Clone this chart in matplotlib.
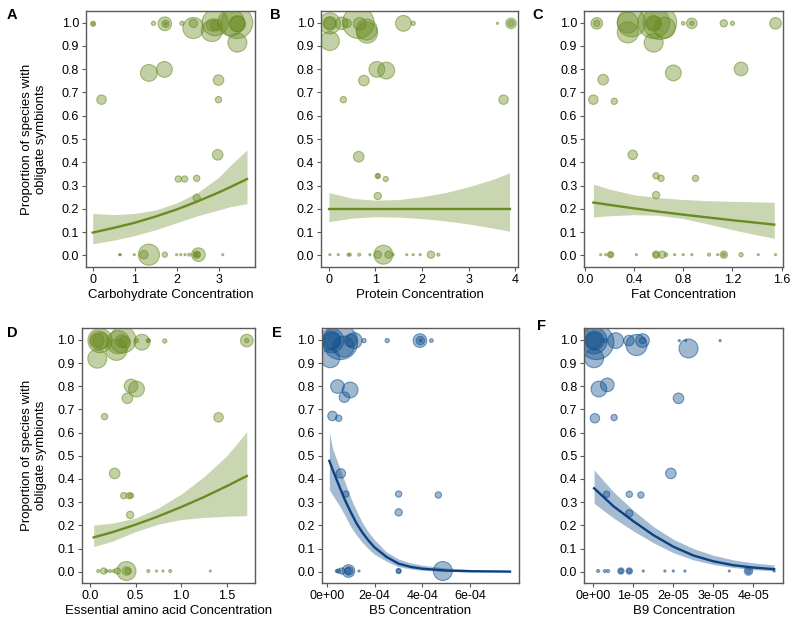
import matplotlib.pyplot as plt
from matplotlib.colors import to_rgba

plt.rcParams['font.family'] = ['Liberation Sans', 'DejaVu Sans']

GREEN = "#698B22"
BLUE = "#104E8B"
BLUE_LINE = "#0c4283"

YLABEL = "Proportion of species with\nobligate symbionts"

# ---- panel A: carbohydrate ----
a_x = [0.01, 0.01, 1.45, 1.72, 1.74, 1.74, 2.13, 2.40, 2.40, 2.84, 2.92, 2.86, 2.95,
       3.44, 3.45, 3.45, 3.30, 3.45,
       1.34, 1.71, 3.00, 3.00, 0.21, 2.98, 2.04, 2.19, 2.48, 2.48,
       0.64, 0.66, 0.99, 1.34, 1.22, 1.72, 2.00, 2.10, 2.20, 2.30, 2.52, 2.48, 2.45, 3.10, 2.50]
a_y = [0.995, 0.995, 0.997, 0.995, 0.995, 0.995, 0.997, 0.997, 0.977, 0.964, 1.0, 0.99, 0.99,
       1.0, 0.995, 0.995, 1.0, 0.914,
       0.784, 0.799, 0.753, 0.669, 0.669, 0.432, 0.328, 0.328, 0.331, 0.247,
       0.003, 0.003, 0.003, 0.003, 0.003, 0.003, 0.003, 0.003, 0.003, 0.003, 0.003, 0.003, 0.003, 0.003, 0.003]
a_n = [6, 2, 4, 42, 12, 2, 4, 16, 100, 100, 156, 36, 30,
       225, 56, 56, 160, 81,
       64, 56, 25, 9, 20, 25, 9, 9, 9, 12,
       1, 1, 1, 100, 16, 6, 1, 1, 1, 2, 42, 12, 4, 1, 6]
a_fit_x = [0.0, 0.5, 1.0, 1.5, 2.0, 2.5, 3.0, 3.3, 3.68]
a_fit = [0.098, 0.118, 0.140, 0.167, 0.197, 0.232, 0.270, 0.295, 0.328]
a_lo = [0.050, 0.065, 0.085, 0.110, 0.140, 0.170, 0.195, 0.210, 0.222]
a_hi = [0.180, 0.175, 0.180, 0.195, 0.225, 0.270, 0.335, 0.390, 0.453]

# ---- panel B: protein ----
b_x = [0.02, 0.02, 0.02, 0.02, 0.27, 0.39, 0.63, 0.66, 0.81, 0.82, 1.60, 1.81, 3.62, 3.91, 3.91,
       1.03, 1.23, 0.75, 0.31, 3.75, 0.64, 1.05, 1.05, 1.22, 1.05,
       1.17, 1.05, 1.28, 2.19, 2.35, 0.02, 0.20, 0.42, 0.45, 0.65, 0.88, 1.38, 1.67, 1.81, 1.96]
b_y = [0.997, 0.997, 0.997, 0.921, 0.997, 0.997, 1.0, 0.995, 0.970, 0.957, 0.997, 0.997, 0.997, 0.997, 0.997,
       0.799, 0.794, 0.751, 0.669, 0.669, 0.424, 0.341, 0.341, 0.328, 0.255,
       0.003, 0.003, 0.003, 0.003, 0.003, 0.003, 0.003, 0.003, 0.003, 0.003, 0.003, 0.003, 0.003, 0.003, 0.003]
b_n = [100, 42, 30, 81, 36, 16, 225, 36, 100, 100, 56, 4, 1, 25, 9,
       56, 64, 25, 9, 20, 25, 6, 4, 6, 12,
       81, 12, 12, 12, 2, 1, 1, 2, 2, 2, 1, 1, 1, 1, 1]
b_fit_x = [0.0, 0.5, 1.0, 1.5, 2.0, 2.5, 3.0, 3.5, 3.88]
b_fit = [0.200, 0.200, 0.200, 0.200, 0.200, 0.200, 0.200, 0.200, 0.200]
b_lo = [0.145, 0.160, 0.166, 0.164, 0.158, 0.148, 0.135, 0.118, 0.104]
b_hi = [0.270, 0.245, 0.237, 0.240, 0.252, 0.270, 0.295, 0.325, 0.355]

# ---- panel C: fat ----
c_x = [0.098, 0.098, 0.35, 0.35, 0.38, 0.56, 0.56, 0.56, 0.56, 0.65, 0.61, 0.80, 0.87, 0.87, 1.13, 1.20, 1.55,
       0.72, 1.27, 0.15, 0.07, 0.24, 0.39, 0.58, 0.62, 0.90, 0.58,
       0.21, 0.21, 0.58, 0.58, 0.63, 0.66, 1.13, 1.13, 1.27,
       0.13, 0.17, 0.42, 0.73, 0.80, 0.87, 1.01, 1.08, 1.41, 1.55]
c_y = [0.997, 0.997, 1.0, 0.958, 1.0, 1.0, 0.997, 0.997, 0.914, 0.978, 1.0, 0.997, 0.997, 0.997, 0.997, 0.997, 0.997,
       0.784, 0.801, 0.755, 0.669, 0.662, 0.432, 0.342, 0.331, 0.331, 0.259,
       0.003, 0.003, 0.003, 0.003, 0.003, 0.003, 0.003, 0.003, 0.003,
       0.003, 0.003, 0.003, 0.003, 0.003, 0.003, 0.003, 0.003, 0.003, 0.003]
c_n = [30, 9, 100, 100, 182, 225, 56, 42, 81, 100, 256, 3, 25, 4, 12, 4, 30,
       56, 42, 25, 20, 9, 20, 9, 9, 9, 12,
       9, 4, 12, 6, 12, 3, 12, 3, 4,
       1, 1, 1, 1, 1, 1, 2, 1, 1, 1]
c_fit_x = [0.07, 0.2, 0.4, 0.6, 0.8, 1.0, 1.2, 1.4, 1.54]
c_fit = [0.227, 0.217, 0.202, 0.188, 0.175, 0.163, 0.151, 0.140, 0.132]
c_lo = [0.165, 0.170, 0.175, 0.172, 0.158, 0.135, 0.110, 0.088, 0.073]
c_hi = [0.306, 0.285, 0.260, 0.248, 0.240, 0.235, 0.232, 0.230, 0.228]

# ---- panel D: essential amino acids ----
d_x = [0.11, 0.10, 0.12, 0.08, 0.08, 0.31, 0.36, 0.29, 0.35, 0.38, 0.51, 0.57, 0.64, 0.64, 0.82, 1.72, 1.72,
       0.45, 0.51, 0.41, 0.16, 1.41, 0.27, 0.37, 0.43, 0.45, 0.44,
       0.40, 0.40, 0.42, 0.15, 0.30, 0.09, 0.18, 0.22, 0.26, 0.64, 0.73, 0.80, 0.88, 1.32]
d_y = [0.997, 0.997, 0.997, 0.997, 0.919, 0.990, 1.0, 0.957, 0.995, 0.990, 0.997, 0.990, 0.997, 0.997, 0.995, 0.997, 0.997,
       0.801, 0.788, 0.748, 0.669, 0.666, 0.424, 0.328, 0.328, 0.328, 0.245,
       0.003, 0.003, 0.003, 0.003, 0.003, 0.003, 0.003, 0.003, 0.003, 0.003, 0.003, 0.003, 0.003, 0.003]
d_n = [132, 81, 56, 42, 81, 121, 156, 100, 36, 30, 4, 56, 4, 2, 4, 36, 4,
       42, 56, 25, 9, 20, 25, 9, 9, 6, 12,
       81, 16, 9, 9, 9, 2, 2, 2, 2, 2, 1, 1, 2, 1]
d_fit_x = [0.04, 0.25, 0.5, 0.75, 1.0, 1.25, 1.5, 1.72]
d_fit = [0.148, 0.171, 0.203, 0.239, 0.279, 0.322, 0.369, 0.413]
d_lo = [0.108, 0.132, 0.173, 0.205, 0.225, 0.234, 0.239, 0.242]
d_hi = [0.201, 0.210, 0.232, 0.275, 0.335, 0.410, 0.500, 0.604]

# ---- panel E: B5 ----
e_x = [0.21e-4, 0.20e-4, 0.22e-4, 0.57e-4, 0.70e-4, 0.15e-4, 1.00e-4, 1.15e-4, 1.56e-4, 2.53e-4,
       3.90e-4, 3.92e-4, 3.93e-4, 4.38e-4,
       0.45e-4, 0.98e-4, 0.74e-4, 0.24e-4, 0.50e-4, 0.59e-4, 0.80e-4, 3.01e-4, 3.01e-4, 4.67e-4,
       0.91e-4, 0.93e-4, 0.89e-4, 0.63e-4, 0.49e-4, 0.42e-4, 3.01e-4, 3.01e-4, 4.86e-4, 1.35e-4]
e_y = [0.997, 0.997, 0.997, 0.990, 0.971, 0.921, 0.997, 0.997, 0.997, 0.997,
       0.997, 0.997, 0.997, 0.997,
       0.799, 0.784, 0.753, 0.672, 0.662, 0.424, 0.335, 0.335, 0.256, 0.331,
       0.003, 0.003, 0.003, 0.003, 0.003, 0.003, 0.003, 0.003, 0.003, 0.003]
e_n = [132, 81, 56, 272, 100, 81, 36, 56, 4, 4,
       42, 16, 2, 3,
       42, 56, 25, 20, 9, 20, 9, 9, 12, 9,
       36, 16, 9, 9, 4, 2, 6, 4, 81, 1]
e_fit_x = [0.11e-4, 0.25e-4, 0.5e-4, 0.75e-4, 1.0e-4, 1.25e-4, 1.5e-4, 1.75e-4, 2.0e-4, 2.5e-4,
           3.0e-4, 3.5e-4, 4.0e-4, 5.0e-4, 6.0e-4, 7.67e-4]
e_fit = [0.478, 0.440, 0.375, 0.312, 0.258, 0.208, 0.168, 0.134, 0.105, 0.064,
         0.035, 0.021, 0.013, 0.005, 0.002, 0.0005]
e_lo = [0.353, 0.330, 0.290, 0.245, 0.195, 0.157, 0.125, 0.098, 0.075, 0.045,
        0.022, 0.012, 0.006, 0.0015, 0.0003, 0.0]
e_hi = [0.600, 0.530, 0.460, 0.390, 0.320, 0.262, 0.210, 0.170, 0.138, 0.085,
        0.055, 0.038, 0.028, 0.016, 0.010, 0.005]

# ---- panel F: B9 ----
f_x = [0.02e-5, 0.03e-5, 0.02e-5, 0.08e-5, 0.02e-5, 0.29e-5, 0.56e-5, 0.89e-5, 1.08e-5, 1.23e-5, 1.23e-5,
       2.15e-5, 2.31e-5, 2.38e-5, 3.17e-5,
       0.14e-5, 0.35e-5, 2.13e-5, 0.04e-5, 0.52e-5, 1.94e-5, 0.33e-5, 0.90e-5, 1.19e-5, 0.90e-5,
       0.69e-5, 0.69e-5, 0.90e-5, 0.90e-5, 3.88e-5, 3.88e-5,
       0.12e-5, 0.29e-5, 0.37e-5, 1.25e-5, 1.79e-5, 2.00e-5, 2.29e-5, 3.40e-5, 4.52e-5]
f_y = [0.997, 0.997, 0.997, 0.990, 0.921, 0.997, 0.997, 0.997, 0.978, 0.997, 0.997,
       0.997, 0.997, 0.963, 0.997,
       0.788, 0.806, 0.748, 0.662, 0.665, 0.424, 0.334, 0.334, 0.331, 0.252,
       0.003, 0.003, 0.003, 0.003, 0.003, 0.003,
       0.003, 0.003, 0.003, 0.003, 0.003, 0.003, 0.003, 0.003, 0.003]
f_n = [156, 81, 56, 272, 81, 4, 56, 25, 100, 42, 9,
       1, 1, 81, 1,
       56, 42, 25, 20, 9, 25, 9, 9, 9, 12,
       9, 4, 9, 4, 16, 6,
       2, 2, 2, 1, 1, 1, 1, 1, 1]
f_fit_x = [0.02e-5, 0.5e-5, 1.0e-5, 1.5e-5, 2.0e-5, 2.5e-5, 3.0e-5, 3.5e-5, 4.0e-5, 4.52e-5]
f_fit = [0.360, 0.283, 0.218, 0.158, 0.108, 0.070, 0.045, 0.028, 0.018, 0.011]
f_lo = [0.295, 0.232, 0.176, 0.125, 0.082, 0.051, 0.031, 0.018, 0.009, 0.004]
f_hi = [0.439, 0.345, 0.265, 0.195, 0.140, 0.100, 0.071, 0.051, 0.038, 0.029]


def draw_panel(ax, x, y, n, fx, fy, lo, hi, color, line_color, band_alpha):
    ax.fill_between(fx, lo, hi, color=color, alpha=band_alpha, linewidth=0, zorder=1)
    ax.scatter(x, y, s=[2.3 * v for v in n], facecolors=to_rgba(color, 0.4),
               edgecolors=to_rgba(color, 0.55), linewidths=0.8, zorder=2)
    ax.plot(fx, fy, color=line_color, linewidth=1.7, zorder=3)
    ax.set_ylim(-0.05, 1.05)
    ax.set_yticks([i / 10 for i in range(11)])
    ax.set_yticklabels([f"{i / 10:.1f}" for i in range(11)])
    for sp in ax.spines.values():
        sp.set_color("#5a5a5a")
        sp.set_linewidth(1.0)
    ax.tick_params(direction="out", length=3, width=0.8, color="#5a5a5a",
                   labelsize=9, labelcolor="black", pad=2)


fig = plt.figure(figsize=(8, 6.24), dpi=100)
W, H = 800, 624


def rect(l, t, r, b):
    return [l / W, 1 - b / H, (r - l) / W, (b - t) / H]


axA = fig.add_axes(rect(86, 11, 255, 267))
axB = fig.add_axes(rect(321, 11, 518, 267))
axC = fig.add_axes(rect(584.3, 11, 783.3, 267))
axD = fig.add_axes(rect(81.7, 328.3, 255, 583.3))
axE = fig.add_axes(rect(321.7, 328.3, 519.3, 583.3))
axF = fig.add_axes(rect(584.3, 328.3, 783.3, 583.3))

draw_panel(axA, a_x, a_y, a_n, a_fit_x, a_fit, a_lo, a_hi, GREEN, GREEN, 0.35)
axA.set_xlim(-0.16, 3.87)
axA.set_xticks([0, 1, 2, 3])
axA.set_xlabel("Carbohydrate Concentration", fontsize=9.5, labelpad=2)

draw_panel(axB, b_x, b_y, b_n, b_fit_x, b_fit, b_lo, b_hi, GREEN, GREEN, 0.35)
axB.set_xlim(-0.17, 4.06)
axB.set_xticks([0, 1, 2, 3, 4])
axB.set_xlabel("Protein Concentration", fontsize=9.5, labelpad=2)

draw_panel(axC, c_x, c_y, c_n, c_fit_x, c_fit, c_lo, c_hi, GREEN, GREEN, 0.35)
axC.set_xlim(-0.0035, 1.6135)
axC.set_xticks([0.0, 0.4, 0.8, 1.2, 1.6])
axC.set_xticklabels(["0.0", "0.4", "0.8", "1.2", "1.6"])
axC.set_xlabel("Fat Concentration", fontsize=9.5, labelpad=2)

draw_panel(axD, d_x, d_y, d_n, d_fit_x, d_fit, d_lo, d_hi, GREEN, GREEN, 0.35)
axD.set_xlim(-0.091, 1.81)
axD.set_xticks([0.0, 0.5, 1.0, 1.5])
axD.set_xticklabels(["0.0", "0.5", "1.0", "1.5"])
axD.set_xlabel("Essential amino acid Concentration", fontsize=9.5, labelpad=2)

draw_panel(axE, e_x, e_y, e_n, e_fit_x, e_fit, e_lo, e_hi, BLUE, BLUE_LINE, 0.38)
axE.set_xlim(-0.21e-4, 8.06e-4)
axE.set_xticks([0, 2e-4, 4e-4, 6e-4])
axE.set_xticklabels(["0e+00", "2e-04", "4e-04", "6e-04"])
axE.set_xlabel("B5 Concentration", fontsize=9.5, labelpad=2)

draw_panel(axF, f_x, f_y, f_n, f_fit_x, f_fit, f_lo, f_hi, BLUE, BLUE_LINE, 0.38)
axF.set_xlim(-0.225e-5, 4.75e-5)
axF.set_xticks([0, 1e-5, 2e-5, 3e-5, 4e-5])
axF.set_xticklabels(["0e+00", "1e-05", "2e-05", "3e-05", "4e-05"])
axF.set_xlabel("B9 Concentration", fontsize=9.5, labelpad=2)

# shared y labels on the left column
fig.text(34 / W, 1 - 139 / H, YLABEL, rotation=90, ha="center", va="center",
         multialignment="center", fontsize=9.5)
fig.text(34 / W, 1 - 455.5 / H, YLABEL, rotation=90, ha="center", va="center",
         multialignment="center", fontsize=9.5)

# panel letters
for lab, px, py in [("A", 12, 15), ("B", 275, 15), ("C", 538, 15),
                    ("D", 12, 333), ("E", 277, 333), ("F", 541, 326)]:
    fig.text(px / W, 1 - py / H, lab, fontsize=10.5, fontweight="bold",
             ha="center", va="center")

fig.savefig("out.png", dpi=100)
